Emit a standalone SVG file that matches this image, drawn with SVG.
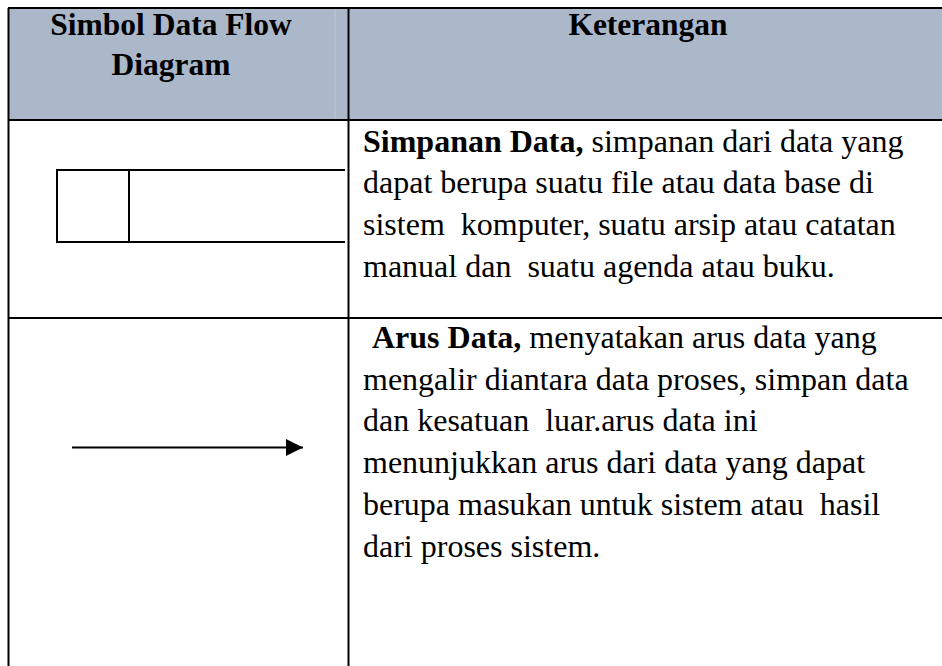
<svg xmlns="http://www.w3.org/2000/svg" width="942" height="666" viewBox="0 0 942 666">
<style>
.grid{stroke:#000;stroke-width:2;fill:none}
.sym{stroke:#000;stroke-width:2;fill:none}
.h{font-family:"Liberation Serif","Times New Roman",serif;font-weight:bold;font-size:31.5px;fill:#000}
.t{font-family:"Liberation Serif","Times New Roman",serif;font-size:32px;fill:#000}
.b{font-weight:bold}
</style>
<defs>
<marker id="ah" markerWidth="17" markerHeight="17" refX="17" refY="8.5" orient="auto" markerUnits="userSpaceOnUse">
<path d="M0,0 L17,8.5 L0,17 Z" fill="#000"/>
</marker>
</defs>
<rect width="942" height="666" fill="#fff"/>
<g id="header">
<rect x="8" y="8" width="934" height="112" fill="#abb8ca"/>
<line x1="335" y1="9" x2="335" y2="119" stroke="#bcc7d6" stroke-width="1"/>
<text class="h" x="171" y="35" text-anchor="middle">Simbol Data Flow</text>
<text class="h" x="171" y="75" text-anchor="middle">Diagram</text>
<text class="h" x="648" y="35" text-anchor="middle">Keterangan</text>
</g>
<g id="grid">
<line class="grid" x1="8" y1="8" x2="942" y2="8"/>
<line class="grid" x1="8" y1="120" x2="942" y2="120"/>
<line class="grid" x1="8" y1="318" x2="942" y2="318"/>
<line class="grid" x1="8.5" y1="8" x2="8.5" y2="666"/>
<line class="grid" x1="348.5" y1="8" x2="348.5" y2="666"/>
</g>
<g id="datastore">
<path class="sym" d="M345,170 H57 V242 H345 M129,170 V242"/>
<text class="t" x="363" y="152"><tspan class="b">Simpanan Data,</tspan> simpanan dari data yang</text>
<text class="t" x="363" y="193">dapat berupa suatu file atau data base di</text>
<text class="t" x="363" y="235" xml:space="preserve">sistem  komputer, suatu arsip atau catatan</text>
<text class="t" x="363" y="277" xml:space="preserve">manual dan  suatu agenda atau buku.</text>
</g>
<g id="connectors">
<line x1="72" y1="447.5" x2="303" y2="447.5" stroke="#000" stroke-width="2" marker-end="url(#ah)"/>
</g>
<g id="arusdata">
<text class="t" x="372" y="348"><tspan class="b">Arus Data,</tspan> menyatakan arus data yang</text>
<text class="t" x="363" y="390">mengalir diantara data proses, simpan data</text>
<text class="t" x="363" y="431" xml:space="preserve">dan kesatuan  luar.arus data ini</text>
<text class="t" x="363" y="473">menunjukkan arus dari data yang dapat</text>
<text class="t" x="363" y="515" xml:space="preserve">berupa masukan untuk sistem atau  hasil</text>
<text class="t" x="363" y="557">dari proses sistem.</text>
</g>
</svg>
